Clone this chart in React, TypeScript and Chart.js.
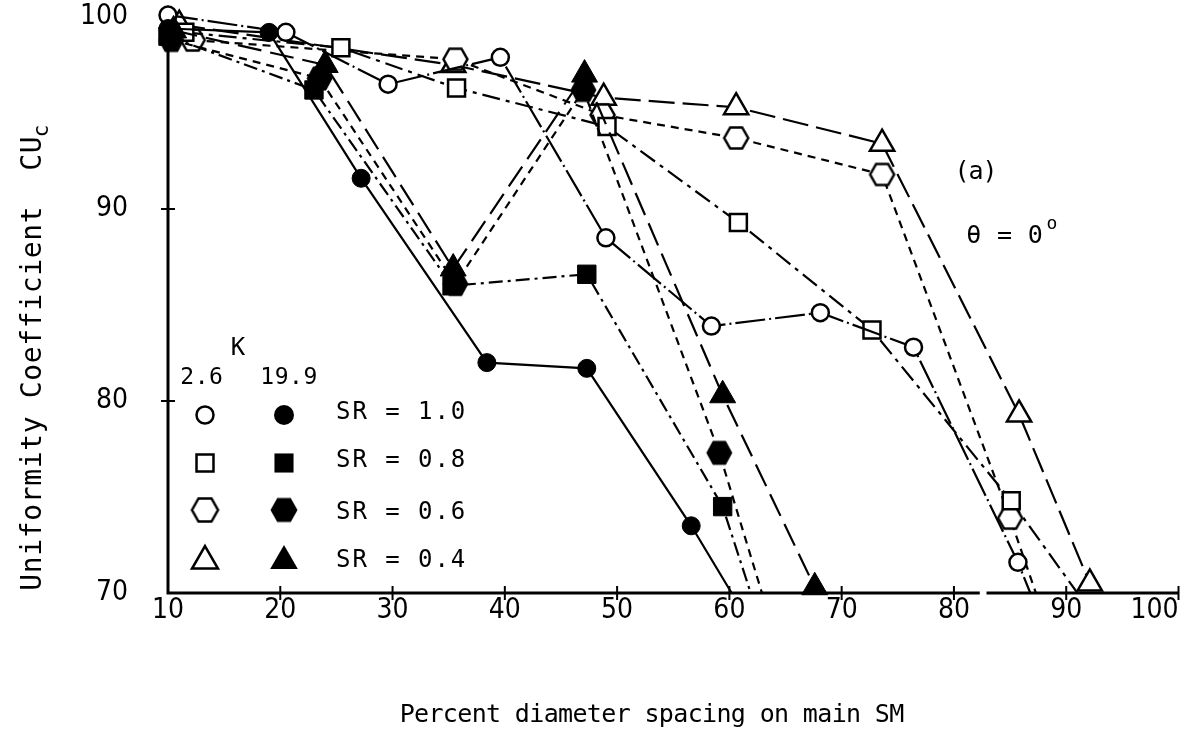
import React, { useEffect, useRef } from "react";
import { Chart, registerables } from "chart.js";

Chart.register(...registerables);

// ---- axes ----
const xTickValues = [10, 20, 30, 40, 50, 60, 70, 80, 90, 100];
const yTickValues = [70, 80, 90, 100];
const xAxisBreak = [82.3, 82.9];

// ---- K = 2.6 (open symbols) ----
const sr10OpenX = [10.0, 20.5, 29.6, 39.6, 49.0, 58.4, 68.1, 76.4, 85.7, 86.8];
const sr10OpenY = [100.1, 99.2, 96.5, 97.9, 88.5, 83.9, 84.6, 82.8, 71.6, 70.0];
const sr08OpenX = [11.5, 25.4, 35.7, 49.1, 60.8, 72.7, 85.1, 91.0];
const sr08OpenY = [99.2, 98.4, 96.3, 94.3, 89.3, 83.7, 74.8, 70.0];
const sr06OpenX = [12.2, 35.6, 48.7, 60.6, 73.6, 85.0, 87.3];
const sr06OpenY = [98.8, 97.8, 94.9, 93.7, 91.8, 73.9, 70.0];
const sr04OpenX = [11.0, 35.4, 48.8, 60.6, 73.6, 85.8, 92.1];
const sr04OpenY = [99.6, 97.5, 95.8, 95.3, 93.4, 79.3, 70.5];

// ---- K = 19.9 (filled symbols) ----
const sr10FilledX = [10.0, 19.0, 27.2, 38.4, 47.3, 56.6, 60.2];
const sr10FilledY = [99.4, 99.2, 91.6, 82.0, 81.7, 73.5, 70.0];
const sr08FilledX = [10.0, 23.0, 35.3, 47.3, 59.4, 61.9];
const sr08FilledY = [99.0, 96.2, 86.0, 86.6, 74.5, 70.0];
const sr06FilledX = [10.3, 23.5, 35.6, 47.0, 59.1, 62.9];
const sr06FilledY = [98.8, 96.8, 86.1, 96.2, 77.3, 70.0];
const sr04FilledX = [10.5, 24.0, 35.4, 47.1, 59.4, 67.6];
const sr04FilledY = [99.3, 97.5, 86.9, 97.0, 80.3, 70.3];

// ---- legend / text ----
const kValues = ["2.6", "19.9"];
const srLabels = ["SR = 1.0", "SR = 0.8", "SR = 0.6", "SR = 0.4"];
const xTitle = "Percent diameter spacing on main SM";
const yTitle = "Uniformity Coefficient  CU";
const yTitleSub = "c";
const panelLabel = "(a)";
const angleLabel = "\u03B8 = 0";
const angleSup = "o";

const MONO = "'DejaVu Sans Mono', 'Liberation Mono', monospace";
const NARROW = "'Liberation Sans Narrow', 'DejaVu Sans Condensed', 'DejaVu Sans', sans-serif";

function makeHex(filled: boolean, w: number, h: number) {
  const lw = 2.5;
  const c = document.createElement("canvas");
  c.width = Math.ceil(w + lw * 2);
  c.height = Math.ceil(h + lw * 2);
  const ctx = c.getContext("2d")!;
  const cx = c.width / 2;
  const cy = c.height / 2;
  ctx.beginPath();
  ctx.moveTo(cx - w / 2, cy);
  ctx.lineTo(cx - w / 4, cy - h / 2);
  ctx.lineTo(cx + w / 4, cy - h / 2);
  ctx.lineTo(cx + w / 2, cy);
  ctx.lineTo(cx + w / 4, cy + h / 2);
  ctx.lineTo(cx - w / 4, cy + h / 2);
  ctx.closePath();
  if (filled) {
    ctx.fillStyle = "#000";
    ctx.fill();
  } else {
    ctx.fillStyle = "#fff";
    ctx.fill();
    ctx.lineWidth = lw;
    ctx.strokeStyle = "#000";
    ctx.stroke();
  }
  return c;
}

function drawMarker(ctx: CanvasRenderingContext2D, style: any, x: number, y: number, r: number, filled: boolean) {
  ctx.save();
  if (typeof style === "object") {
    ctx.drawImage(style, x - style.width / 2, y - style.height / 2);
    ctx.restore();
    return;
  }
  ctx.beginPath();
  if (style === "circle") {
    ctx.arc(x, y, r, 0, Math.PI * 2);
  } else if (style === "rect") {
    const s = r * Math.SQRT1_2;
    ctx.rect(x - s, y - s, 2 * s, 2 * s);
  } else if (style === "triangle") {
    ctx.moveTo(x, y - r);
    ctx.lineTo(x + r * Math.sin((2 * Math.PI) / 3), y - r * Math.cos((2 * Math.PI) / 3));
    ctx.lineTo(x + r * Math.sin((4 * Math.PI) / 3), y - r * Math.cos((4 * Math.PI) / 3));
    ctx.closePath();
  }
  if (filled) {
    ctx.fillStyle = "#000";
    ctx.fill();
  } else {
    ctx.fillStyle = "#fff";
    ctx.fill();
    ctx.lineWidth = 2.5;
    ctx.strokeStyle = "#000";
    ctx.stroke();
  }
  ctx.restore();
}

function typeText(ctx: CanvasRenderingContext2D, s: string, x: number, y: number, adv: number, font: string, baseline: CanvasTextBaseline = "middle") {
  ctx.font = font;
  ctx.fillStyle = "#000";
  ctx.textAlign = "center";
  ctx.textBaseline = baseline;
  for (let i = 0; i < s.length; i++) {
    if (s[i] !== " ") ctx.fillText(s[i], x + adv * (i + 0.5), y);
  }
}

export default function App() {
  const ref = useRef<HTMLCanvasElement>(null);

  useEffect(() => {
    const hexOpen = makeHex(false, 24, 21);
    const hexFilled = makeHex(true, 26, 24);
    const hexOpenLegend = makeHex(false, 26, 23);
    const hexFilledLegend = makeHex(true, 27, 24);

    const series = [
      { xs: sr10FilledX, ys: sr10FilledY, style: "circle", filled: true, r: 9, dash: [], axisEnd: true },
      { xs: sr08FilledX, ys: sr08FilledY, style: "rect", filled: true, r: 13, dash: [14, 5, 3, 5], axisEnd: true },
      { xs: sr06FilledX, ys: sr06FilledY, style: hexFilled, filled: true, r: 12, dash: [8, 6], axisEnd: true },
      { xs: sr04FilledX, ys: sr04FilledY, style: "triangle", filled: true, r: 15, dash: [24, 9], axisEnd: false },
      { xs: sr10OpenX, ys: sr10OpenY, style: "circle", filled: false, r: 8.5, dash: [30, 4, 2, 4], axisEnd: true },
      { xs: sr08OpenX, ys: sr08OpenY, style: "rect", filled: false, r: 12, dash: [18, 6, 4, 6], axisEnd: true },
      { xs: sr06OpenX, ys: sr06OpenY, style: hexOpen, filled: false, r: 12, dash: [8, 6], axisEnd: true },
      { xs: sr04OpenX, ys: sr04OpenY, style: "triangle", filled: false, r: 14, dash: [26, 8], axisEnd: false },
    ];

    const datasets = series.map((s) => {
      const n = s.xs.length;
      return {
        data: s.xs.map((x, i) => ({ x, y: s.ys[i] })),
        showLine: true,
        borderColor: "#000",
        borderWidth: 2.2,
        borderDash: s.dash,
        tension: 0,
        clip: false as any,
        pointStyle: s.style as any,
        pointRadius: s.xs.map((_, i) => (s.axisEnd && i === n - 1 ? 0 : s.r)),
        pointBackgroundColor: s.filled ? "#000" : "#fff",
        pointBorderColor: "#000",
        pointBorderWidth: s.filled ? 1 : 2.5,
      };
    });

    const decor = {
      id: "decor",
      beforeDatasetsDraw(chart: any) {
        const ctx: CanvasRenderingContext2D = chart.ctx;
        const xs = chart.scales.x;
        const ys = chart.scales.y;
        const x0 = xs.getPixelForValue(xTickValues[0]);
        const y0 = ys.getPixelForValue(yTickValues[0]);
        const yTop = ys.getPixelForValue(yTickValues[yTickValues.length - 1]);
        const xEnd = xs.getPixelForValue(xTickValues[xTickValues.length - 1]);
        ctx.save();
        ctx.strokeStyle = "#000";
        ctx.lineWidth = 3;
        ctx.beginPath();
        ctx.moveTo(x0, y0 + 1.5);
        ctx.lineTo(x0, yTop - 2);
        ctx.moveTo(x0 - 1.5, y0);
        ctx.lineTo(xs.getPixelForValue(xAxisBreak[0]), y0);
        ctx.moveTo(xs.getPixelForValue(xAxisBreak[1]), y0);
        ctx.lineTo(xEnd, y0);
        ctx.stroke();
        ctx.lineWidth = 2;
        ctx.beginPath();
        xTickValues.slice(1).forEach((v) => {
          const p = xs.getPixelForValue(v);
          ctx.moveTo(p, y0 - 7);
          ctx.lineTo(p, y0 + 7);
        });
        yTickValues.slice(1, -1).forEach((v) => {
          const p = ys.getPixelForValue(v);
          ctx.moveTo(x0 - 7, p);
          ctx.lineTo(x0 + 7, p);
        });
        ctx.stroke();
        ctx.restore();
      },
      afterDraw(chart: any) {
        const ctx: CanvasRenderingContext2D = chart.ctx;
        ctx.save();
        // x title
        typeText(ctx, xTitle, 400, 715, 14.4, `25px ${MONO}`);
        // y title (rotated)
        ctx.save();
        ctx.translate(41, 591);
        ctx.rotate(-Math.PI / 2);
        typeText(ctx, yTitle, 0, 0, 17.5, `28px ${MONO}`, "alphabetic");
        typeText(ctx, yTitleSub, yTitle.length * 17.5 - 1, 7, 12, `21px ${MONO}`, "alphabetic");
        ctx.restore();
        // panel annotations
        typeText(ctx, panelLabel, 955, 172, 14, `25px ${MONO}`);
        typeText(ctx, angleLabel, 966, 236, 15.4, `25px ${MONO}`);
        typeText(ctx, angleSup, 1046, 224, 12, `18px ${MONO}`);
        // legend
        typeText(ctx, "K", 231, 349, 14, `24px ${MONO}`);
        typeText(ctx, kValues[0], 180, 378, 14.4, `23px ${MONO}`);
        typeText(ctx, kValues[1], 260, 378, 14.4, `23px ${MONO}`);
        const rowsY = [415, 463, 510, 561];
        const textY = [413, 461, 513, 561];
        const openStyles: any[] = ["circle", "rect", hexOpenLegend, "triangle"];
        const openR = [8.5, 12, 12, 15];
        const filledR = [10, 13.5, 12, 16];
        rowsY.forEach((y, i) => {
          drawMarker(ctx, openStyles[i], 205, y, openR[i], false);
          drawMarker(ctx, i === 2 ? hexFilledLegend : openStyles[i], 284, y, filledR[i], true);
          typeText(ctx, srLabels[i], 335, textY[i], 16.4, `24px ${MONO}`);
        });
        ctx.restore();
      },
    };

    const chart = new Chart(ref.current!, {
      type: "scatter",
      data: { datasets: datasets as any },
      options: {
        responsive: false,
        animation: false,
        layout: { padding: { left: 0, right: 10, top: 17, bottom: 0 } },
        plugins: { legend: { display: false }, tooltip: { enabled: false } },
        scales: {
          x: {
            type: "linear",
            min: xTickValues[0],
            max: xTickValues[xTickValues.length - 1],
            afterFit: (s: any) => {
              s.height = 147;
              s.paddingLeft = 0;
              s.paddingRight = 0;
            },
            afterBuildTicks: (s: any) => {
              s.ticks = xTickValues.map((v) => ({ value: v }));
            },
            grid: { display: false, drawTicks: false },
            border: { display: false },
            ticks: {
              padding: 4,
              color: "#000",
              maxRotation: 0,
              autoSkip: false,
              font: { family: NARROW, size: 28, lineHeight: 1 },
              callback: (v: any) => (v === 100 ? "100      " : String(v)),
            },
          },
          y: {
            type: "linear",
            min: yTickValues[0],
            max: yTickValues[yTickValues.length - 1],
            afterFit: (s: any) => {
              s.width = 168;
              s.paddingTop = 0;
              s.paddingBottom = 0;
            },
            afterBuildTicks: (s: any) => {
              s.ticks = yTickValues.map((v) => ({ value: v }));
            },
            grid: { display: false, drawTicks: false },
            border: { display: false },
            ticks: {
              padding: 40,
              color: "#000",
              font: { family: NARROW, size: 28, lineHeight: 1 },
            },
          },
        },
      },
      plugins: [decor],
    } as any);
    return () => chart.destroy();
  }, []);

  return (
    <div style={{ position: "fixed", left: 0, top: 0, width: 1195, height: 740, background: "#fff" }}>
      <canvas ref={ref} width={1195} height={740} style={{ display: "block", width: 1195, height: 740 }} />
    </div>
  );
}
